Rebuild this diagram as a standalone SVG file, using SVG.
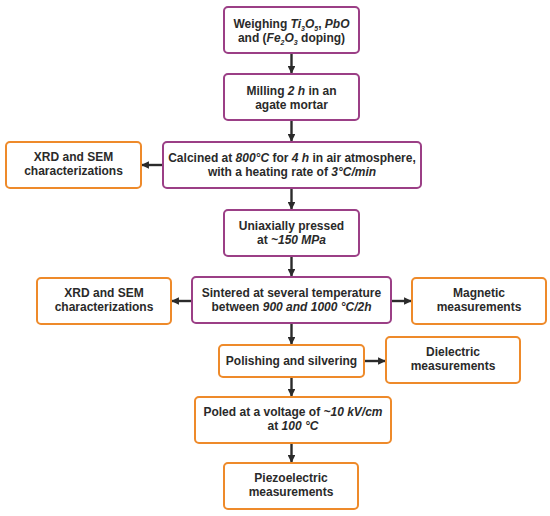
<svg xmlns="http://www.w3.org/2000/svg" width="550" height="516" viewBox="0 0 550 516">
<defs>
<marker id="ah" viewBox="0 0 10 10" refX="9" refY="5" markerWidth="3.2" markerHeight="3.2" orient="auto" markerUnits="strokeWidth">
<path d="M0,0 L10,5 L0,10 Z" fill="#2b2b2b"/>
</marker>
</defs>
<style>
.p{fill:#fff;stroke:#9b3f86;stroke-width:2}
.o{fill:#fff;stroke:#ee8a2a;stroke-width:2}
text{font-family:"Liberation Sans",Arial,sans-serif;font-weight:bold;font-size:12px;fill:#2a2a2a;text-anchor:middle}
.i{font-style:italic}
.c line{stroke:#2b2b2b;stroke-width:2.4;marker-end:url(#ah)}
</style>
<rect width="550" height="516" fill="#fff"/>
<g class="c" id="connectors">
<line x1="291.5" y1="53" x2="291.5" y2="73"/>
<line x1="291.5" y1="120" x2="291.5" y2="141"/>
<line x1="163" y1="165" x2="142" y2="165"/>
<line x1="291.5" y1="188" x2="291.5" y2="209"/>
<line x1="291.5" y1="256" x2="291.5" y2="276"/>
<line x1="192" y1="301" x2="172" y2="301"/>
<line x1="391" y1="301" x2="411" y2="301"/>
<line x1="291.5" y1="323" x2="291.5" y2="344"/>
<line x1="364" y1="361" x2="385" y2="361"/>
<line x1="291.5" y1="377" x2="291.5" y2="396"/>
<line x1="291.5" y1="443" x2="291.5" y2="462"/>
</g>
<g id="weighing">
<rect class="p" x="224" y="7" width="135" height="46" rx="4"/>
<text x="291.5" y="28">Weighing <tspan class="i">Ti</tspan><tspan class="i" font-size="7" dy="3">3</tspan><tspan class="i" dy="-3">O</tspan><tspan class="i" font-size="7" dy="3">5</tspan><tspan dy="-3">, </tspan><tspan class="i">PbO</tspan></text>
<text x="291.5" y="42">and (<tspan class="i">Fe</tspan><tspan class="i" font-size="7" dy="3">2</tspan><tspan class="i" dy="-3">O</tspan><tspan class="i" font-size="7" dy="3">3</tspan><tspan dy="-3"> doping)</tspan></text>
</g>
<g id="milling">
<rect class="p" x="224" y="74" width="135" height="46" rx="4"/>
<text x="291.5" y="95">Milling <tspan class="i">2 h</tspan> in an</text>
<text x="291.5" y="109">agate mortar</text>
</g>
<g id="calcined">
<rect class="p" x="163" y="142" width="258" height="46" rx="4"/>
<text x="292" y="162">Calcined at <tspan class="i">800°C</tspan> for <tspan class="i">4 h</tspan> in air atmosphere,</text>
<text x="292" y="176">with a heating rate of <tspan class="i">3°C/min</tspan></text>
</g>
<g id="xrd1">
<rect class="o" x="6" y="142" width="135" height="46" rx="4"/>
<text x="73.5" y="161">XRD and SEM</text>
<text x="73.5" y="175">characterizations</text>
</g>
<g id="pressed">
<rect class="p" x="224" y="210" width="135" height="46" rx="4"/>
<text x="291.5" y="230">Uniaxially pressed</text>
<text x="291.5" y="244">at <tspan class="i">~150 MPa</tspan></text>
</g>
<g id="sintered">
<rect class="p" x="192" y="277" width="199" height="46" rx="4"/>
<text x="291.5" y="297">Sintered at several temperature</text>
<text x="291.5" y="311">between <tspan class="i">900 and 1000 °C/2h</tspan></text>
</g>
<g id="xrd2">
<rect class="o" x="37" y="278" width="134" height="46" rx="4"/>
<text x="104" y="297">XRD and SEM</text>
<text x="104" y="311">characterizations</text>
</g>
<g id="magnetic">
<rect class="o" x="412" y="278" width="134" height="46" rx="4"/>
<text x="479" y="297">Magnetic</text>
<text x="479" y="311">measurements</text>
</g>
<g id="polishing">
<rect class="o" x="219" y="345" width="145" height="32" rx="4"/>
<text x="291.5" y="365">Polishing and silvering</text>
</g>
<g id="dielectric">
<rect class="o" x="386" y="337" width="134" height="46" rx="4"/>
<text x="453" y="356">Dielectric</text>
<text x="453" y="370">measurements</text>
</g>
<g id="poled">
<rect class="o" x="195" y="397" width="196" height="46" rx="4"/>
<text x="293" y="416">Poled at a voltage of <tspan class="i">~10 kV/cm</tspan></text>
<text x="293" y="430">at <tspan class="i">100 °C</tspan></text>
</g>
<g id="piezo">
<rect class="o" x="224" y="463" width="134" height="46" rx="4"/>
<text x="291" y="482">Piezoelectric</text>
<text x="291" y="496">measurements</text>
</g>
</svg>
